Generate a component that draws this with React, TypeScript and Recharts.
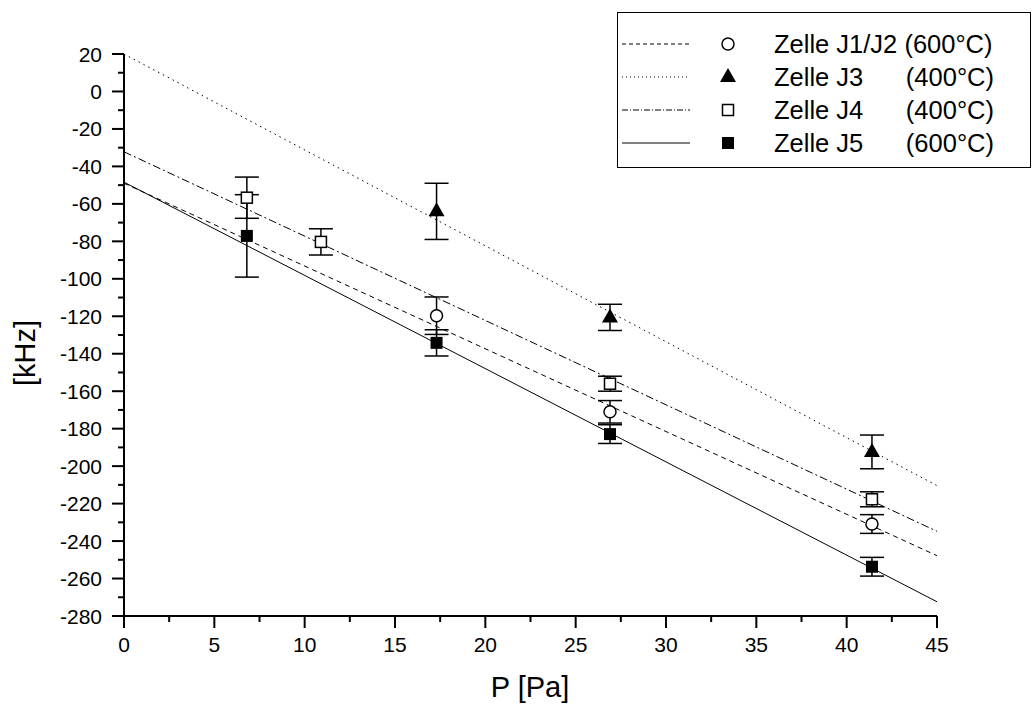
import { ComposedChart, ErrorBar, Line, Scatter, XAxis, YAxis } from "recharts";

// measured points: pressure [Pa], shift [kHz], error [kHz]
const j12P = [17.3, 26.9, 41.4];
const j12F = [-119.7, -171, -230.9];
const j12E = [10, 6, 5];

const j3P = [17.3, 26.9, 41.4];
const j3F = [-64, -120.6, -192.4];
const j3E = [15, 7, 9];

const j4P = [6.8, 10.9, 26.9, 41.4];
const j4F = [-56.7, -80.3, -156, -217.7];
const j4E = [11, 7, 4, 4];

const j5P = [6.8, 17.3, 26.9, 41.4];
const j5F = [-77.1, -134.2, -182.9, -253.7];
const j5E = [22, 7, 5, 5];

// fit lines, read at P = 0 and P = 45
const fitP = [0, 45];
const fitJ12 = [-49, -247.8];
const fitJ3 = [20, -210.4];
const fitJ4 = [-32.2, -234.8];
const fitJ5 = [-48.4, -272.4];

const xTicks = [0, 2.5, 5, 7.5, 10, 12.5, 15, 17.5, 20, 22.5, 25, 27.5, 30, 32.5, 35, 37.5, 40, 42.5, 45];
const yTicks = [
  -280, -270, -260, -250, -240, -230, -220, -210, -200, -190, -180, -170, -160, -150, -140, -130, -120,
  -110, -100, -90, -80, -70, -60, -50, -40, -30, -20, -10, 0, 10, 20,
];

const font = '"Liberation Sans", Arial, sans-serif';

const points = (p: number[], f: number[], e?: number[]) =>
  p.map((x, i) => ({ x, y: f[i], err: e ? e[i] : 0 }));

const XTick = (props: any) => {
  const { x, y, payload } = props;
  const v = payload.value;
  const major = v % 5 === 0;
  return (
    <g>
      <line x1={x} x2={x} y1={y} y2={y + (major ? 12 : 6)} stroke="#000" strokeWidth={2} />
      {major && (
        <text x={x} y={y + 36} textAnchor="middle" fontSize={21} fontFamily={font} fill="#000">
          {v}
        </text>
      )}
    </g>
  );
};

const YTick = (props: any) => {
  const { x, y, payload } = props;
  const v = payload.value;
  const major = v % 20 === 0;
  return (
    <g>
      <line x1={x - (major ? 12 : 6)} x2={x} y1={y} y2={y} stroke="#000" strokeWidth={2} />
      {major && (
        <text x={x - 22} y={y + 7.5} textAnchor="end" fontSize={21} fontFamily={font} fill="#000">
          {v}
        </text>
      )}
    </g>
  );
};

const OpenCircle = ({ cx, cy }: any) => <circle cx={cx} cy={cy} r={6} fill="#fff" stroke="#000" strokeWidth={1.5} />;
const Triangle = ({ cx, cy }: any) => (
  <polygon points={`${cx},${cy - 9} ${cx + 8},${cy + 5} ${cx - 8},${cy + 5}`} fill="#000" />
);
const OpenSquare = ({ cx, cy }: any) => (
  <rect x={cx - 5.5} y={cy - 5.5} width={11} height={11} fill="#fff" stroke="#000" strokeWidth={1.5} />
);
const FilledSquare = ({ cx, cy }: any) => <rect x={cx - 6} y={cy - 6} width={12} height={12} fill="#000" />;

const legendRows = [
  { dash: "4 3", name: "Zelle J1/J2 (600°C)", temp: "", marker: OpenCircle },
  { dash: "1 3", name: "Zelle J3", temp: "(400°C)", marker: Triangle },
  { dash: "6 2 1 2", name: "Zelle J4", temp: "(400°C)", marker: OpenSquare },
  { dash: undefined, name: "Zelle J5", temp: "(600°C)", marker: FilledSquare },
];

export default function App() {
  return (
    <div style={{ position: "absolute", left: 0, top: 0, width: 1032, height: 704, background: "#fff" }}>
      <ComposedChart width={1032} height={704} margin={{ top: 54, right: 95, left: 0, bottom: 0 }}>
        <XAxis
          type="number"
          dataKey="x"
          domain={[0, 45]}
          ticks={xTicks}
          interval={0}
          height={88}
          tickSize={0}
          tickMargin={0}
          tickLine={false}
          tick={<XTick />}
          axisLine={{ stroke: "#000", strokeWidth: 2 }}
          allowDataOverflow
        />
        <YAxis
          type="number"
          dataKey="y"
          domain={[-280, 20]}
          ticks={yTicks}
          interval={0}
          width={124}
          tickSize={0}
          tickMargin={0}
          tickLine={false}
          tick={<YTick />}
          axisLine={{ stroke: "#000", strokeWidth: 2 }}
          allowDataOverflow
        />
        <Line data={points(fitP, fitJ12)} dataKey="y" stroke="#000" strokeWidth={1} strokeDasharray="5 4" dot={false} isAnimationActive={false} />
        <Line data={points(fitP, fitJ3)} dataKey="y" stroke="#000" strokeWidth={1} strokeDasharray="1.5 4" dot={false} isAnimationActive={false} />
        <Line data={points(fitP, fitJ4)} dataKey="y" stroke="#000" strokeWidth={1} strokeDasharray="8 3 2 3" dot={false} isAnimationActive={false} />
        <Line data={points(fitP, fitJ5)} dataKey="y" stroke="#000" strokeWidth={1} dot={false} isAnimationActive={false} />
        <Scatter data={points(j12P, j12F, j12E)} dataKey="y" shape={<OpenCircle />} isAnimationActive={false}>
          <ErrorBar dataKey="err" direction="y" width={12} stroke="#000" strokeWidth={1.5} />
        </Scatter>
        <Scatter data={points(j3P, j3F, j3E)} dataKey="y" shape={<Triangle />} isAnimationActive={false}>
          <ErrorBar dataKey="err" direction="y" width={12} stroke="#000" strokeWidth={1.5} />
        </Scatter>
        <Scatter data={points(j4P, j4F, j4E)} dataKey="y" shape={<OpenSquare />} isAnimationActive={false}>
          <ErrorBar dataKey="err" direction="y" width={12} stroke="#000" strokeWidth={1.5} />
        </Scatter>
        <Scatter data={points(j5P, j5F, j5E)} dataKey="y" shape={<FilledSquare />} isAnimationActive={false}>
          <ErrorBar dataKey="err" direction="y" width={12} stroke="#000" strokeWidth={1.5} />
        </Scatter>
      </ComposedChart>
      <svg
        width={1032}
        height={704}
        style={{ position: "absolute", left: 0, top: 0, pointerEvents: "none" }}
        fontFamily={font}
      >
        <text x={530} y={697} textAnchor="middle" fontSize={29} fill="#000">
          P [Pa]
        </text>
        <text x={35} y={353} transform="rotate(-90, 35, 353)" textAnchor="middle" fontSize={29} fill="#000">
          [kHz]
        </text>
        <rect x={617.5} y={12.5} width={413} height={155} fill="#fff" stroke="#000" strokeWidth={1} />
        {legendRows.map((r, i) => {
          const cy = 44 + i * 33;
          const M = r.marker;
          return (
            <g key={r.name}>
              <line x1={622} x2={690} y1={cy} y2={cy} stroke="#000" strokeWidth={1} strokeDasharray={r.dash} />
              <M cx={728} cy={cy} />
              <text x={774} y={cy + 9} fontSize={25.5} fill="#000">
                {r.name}
              </text>
              {r.temp && (
                <text x={994} y={cy + 9} fontSize={25.5} textAnchor="end" fill="#000">
                  {r.temp}
                </text>
              )}
            </g>
          );
        })}
      </svg>
    </div>
  );
}
